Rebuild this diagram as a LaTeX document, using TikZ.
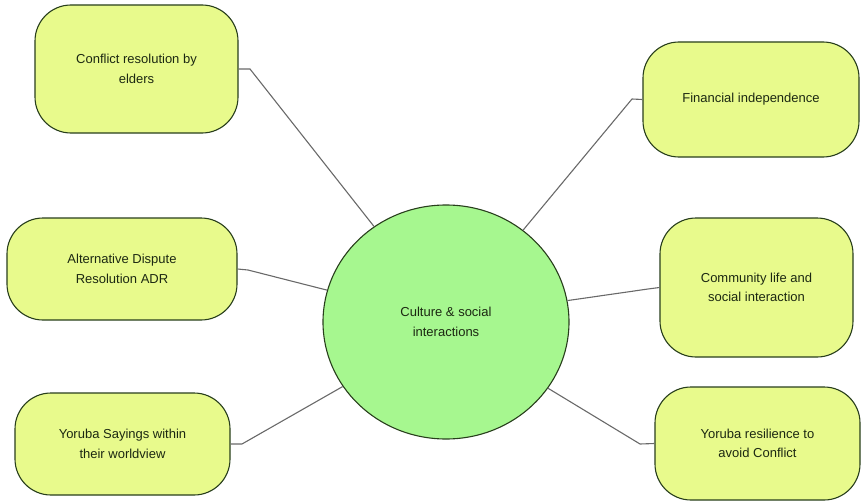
\documentclass[tikz,border=0pt]{standalone}
\usepackage{fontspec}
\setmainfont{Liberation Sans}
\usetikzlibrary{shapes.geometric}

\definecolor{boxfill}{RGB}{232,250,140}
\definecolor{hubfill}{RGB}{166,247,143}
\definecolor{edgedark}{RGB}{40,62,28}
\definecolor{linkgray}{RGB}{105,105,105}
\definecolor{inkdark}{RGB}{28,40,18}

\tikzset{
  topic/.style={draw=edgedark, fill=boxfill, line width=1.1pt,
    rounded corners=36pt, align=center, inner sep=0pt,
    text=inkdark, font=\fontsize{13}{19.5}\selectfont},
  hubnode/.style={ellipse, draw=edgedark, fill=hubfill, line width=1.1pt,
    inner sep=0pt, minimum width=246pt, minimum height=234pt,
    align=center, text=inkdark, font=\fontsize{13}{19.5}\selectfont},
  link/.style={draw=linkgray, line width=1.1pt}
}

\begin{document}
\begin{tikzpicture}[x=1pt,y=-1pt]
  \useasboundingbox (0,0) rectangle (862,503);

  % central circle
  \node[hubnode] (hub) at (446,322) {Culture \& social\\interactions};

  % surrounding topics
  \node[topic, minimum width=203pt, minimum height=128pt] (elders) at (136.5,69)
    {Conflict resolution by\\elders};
  \node[topic, minimum width=216pt, minimum height=115pt] (finance) at (751,99.5)
    {Financial independence};
  \node[topic, minimum width=230pt, minimum height=102pt] (adr) at (122,269)
    {Alternative Dispute\\Resolution ADR};
  \node[topic, minimum width=193pt, minimum height=139pt] (community) at (756.5,287.5)
    {Community life and\\social interaction};
  \node[topic, minimum width=215pt, minimum height=102pt] (sayings) at (122.5,444)
    {Yoruba Sayings within\\their worldview};
  \node[topic, minimum width=205pt, minimum height=113pt] (resilience) at (757.5,443.5)
    {Yoruba resilience to\\avoid Conflict};

  % elbow points of the connectors
  \coordinate (kElders) at (250,69);
  \coordinate (kFinance) at (632,99);
  \coordinate (kAdr) at (248,270);
  \coordinate (kCommunity) at (648,289);
  \coordinate (kSayings) at (242,444);
  \coordinate (kResilience) at (640,444);

  % connectors
  \draw[link] (elders.east) -- (kElders) -- (hub.127);
  \draw[link] (finance.west) -- (kFinance) -- (hub.50);
  \draw[link] (adr.east) -- (kAdr) -- (hub.165);
  \draw[link] (community.west) -- (kCommunity) -- (hub.10);
  \draw[link] (sayings.east) -- (kSayings) -- (hub.212);
  \draw[link] (resilience.west) -- (kResilience) -- (hub.327);
\end{tikzpicture}
\end{document}
